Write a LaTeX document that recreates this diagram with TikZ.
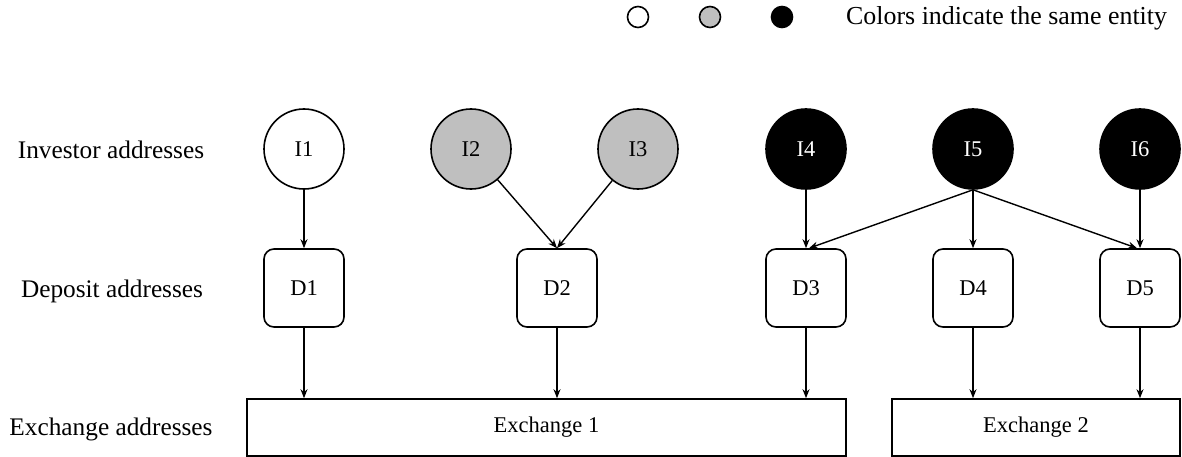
\documentclass[tikz,border=0pt]{standalone}
\usepackage{fontspec}
\setmainfont{Liberation Serif}
\usetikzlibrary{arrows.meta}
\definecolor{entgray}{RGB}{191,191,191}
\begin{document}
\begin{tikzpicture}[x=1pt,y=-1pt,
  every node/.style={font=\fontsize{22.5}{26}\selectfont},
  inv/.style={circle,draw,line width=1.6pt,minimum size=80pt,inner sep=0pt},
  dep/.style={rectangle,draw,line width=1.6pt,rounded corners=10pt,minimum width=80pt,minimum height=78pt,inner sep=0pt},
  exch/.style={rectangle,draw,line width=1.6pt,minimum height=57pt,inner sep=0pt},
  leg/.style={circle,draw,line width=1.6pt,minimum size=21pt,inner sep=0pt},
  rowlabel/.style={font=\fontsize{25.3}{30}\selectfont,inner sep=0pt},
  conn/.style={line width=1.4pt,-{Stealth[length=9pt,width=7pt]}}]
\useasboundingbox (0,0) rectangle (1182,457);
% legend
\node[leg,fill=white] (lw) at (638,17) {};
\node[leg,fill=entgray] (lg) at (710,17) {};
\node[leg,fill=black] (lb) at (782,17) {};
\node[rowlabel,anchor=west,font=\fontsize{25.9}{30}\selectfont] (legtext) at (846,18) {Colors indicate the same entity};
% row labels
\node[rowlabel] (linv) at (111,150) {Investor addresses};
\node[rowlabel] (ldep) at (112,291) {Deposit addresses};
\node[rowlabel] (lexc) at (111,429) {Exchange addresses};
% investors
\node[inv,fill=white] (I1) at (304,149) {I1};
\node[inv,fill=entgray] (I2) at (471,149) {I2};
\node[inv,fill=entgray] (I3) at (638,149) {I3};
\node[inv,fill=black,text=white] (I4) at (806,149) {I4};
\node[inv,fill=black,text=white] (I5) at (973,149) {I5};
\node[inv,fill=black,text=white] (I6) at (1140,149) {I6};
% deposits
\node[dep] (D1) at (304,288) {D1};
\node[dep] (D2) at (557,288) {D2};
\node[dep] (D3) at (806,288) {D3};
\node[dep] (D4) at (973,288) {D4};
\node[dep] (D5) at (1140,288) {D5};
% exchanges
\node[exch,minimum width=599pt] (E1) at (546.5,427.5) {Exchange 1};
\node[exch,minimum width=288pt] (E2) at (1036,427.5) {Exchange 2};
% connectors
\draw[conn] (I1) -- (D1);
\draw[conn] (I2) -- (D2.north);
\draw[conn] (I3) -- (D2.north);
\draw[conn] (I4) -- (D3);
\draw[conn] (I5.south) -- ([xshift=3pt]D3.north);
\draw[conn] (I5) -- (D4);
\draw[conn] (I5.south) -- ([xshift=-3pt]D5.north);
\draw[conn] (I6) -- (D5);
\draw[conn] (D1.south) -- (D1.south |- E1.north);
\draw[conn] (D2.south) -- (D2.south |- E1.north);
\draw[conn] (D3.south) -- (D3.south |- E1.north);
\draw[conn] (D4.south) -- (D4.south |- E2.north);
\draw[conn] (D5.south) -- (D5.south |- E2.north);
\end{tikzpicture}
\end{document}
